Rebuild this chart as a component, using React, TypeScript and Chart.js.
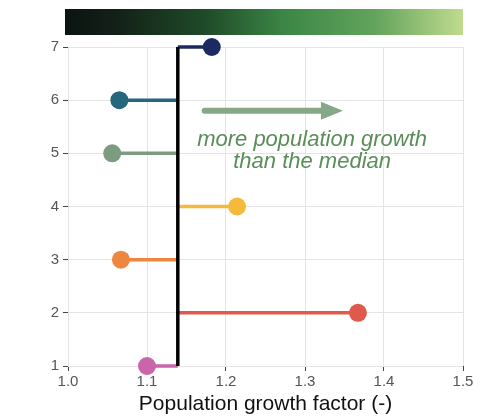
import React, { useEffect, useRef } from "react";
import { Chart, registerables } from "chart.js";

Chart.register(...registerables);

const categories = [1, 2, 3, 4, 5, 6, 7];
const growthValues = [1.1, 1.367, 1.067, 1.214, 1.056, 1.065, 1.182];
const pointColors = ["#c965a8", "#dd5a4d", "#ee8640", "#f5b93c", "#7d9c7f", "#25677d", "#1b2a63"];
const medianValue = 1.139;
const xTicks = [1.0, 1.1, 1.2, 1.3, 1.4, 1.5];
const yTicks = [1, 2, 3, 4, 5, 6, 7];
const annotationLines = ["more population growth", "than the median"];
const xTitle = "Population growth factor (-)";

const FONT = "'Liberation Sans', Arial, sans-serif";

const overlayPlugin = {
  id: "overlay",
  afterDatasetsDraw(chart: any) {
    const { ctx, chartArea, scales } = chart;
    const xs = scales.x;
    const ys = scales.y;
    ctx.save();
    // gradient bar
    const gx0 = chartArea.left - 3;
    const gx1 = chartArea.right;
    const gy0 = chartArea.top - 38;
    const gh = 26;
    const g = ctx.createLinearGradient(gx0, 0, gx1, 0);
    g.addColorStop(0, "#0c1411");
    g.addColorStop(0.12, "#121f17");
    g.addColorStop(0.35, "#1f4a28");
    g.addColorStop(0.55, "#3b8645");
    g.addColorStop(0.78, "#63a45c");
    g.addColorStop(1, "#c0db8e");
    ctx.fillStyle = g;
    ctx.fillRect(gx0, gy0, gx1 - gx0, gh);

    // arrow
    const ax0 = xs.getPixelForValue(1.173);
    const ax1 = xs.getPixelForValue(1.348);
    const ay = ys.getPixelForValue(5.8);
    ctx.strokeStyle = "#86a886";
    ctx.fillStyle = "#86a886";
    ctx.lineWidth = 6;
    ctx.lineCap = "round";
    ctx.beginPath();
    ctx.moveTo(ax0, ay);
    ctx.lineTo(ax1 - 20, ay);
    ctx.stroke();
    ctx.beginPath();
    ctx.moveTo(ax1, ay);
    ctx.lineTo(ax1 - 22, ay - 9);
    ctx.lineTo(ax1 - 22, ay + 9);
    ctx.closePath();
    ctx.fill();

    // text
    ctx.fillStyle = "#5a8d5a";
    ctx.font = `italic 22px ${FONT}`;
    ctx.textAlign = "center";
    ctx.textBaseline = "middle";
    const tx = xs.getPixelForValue(1.309);
    ctx.fillText(annotationLines[0], tx, ys.getPixelForValue(5.25));
    ctx.fillText(annotationLines[1], tx, ys.getPixelForValue(4.84));
    ctx.restore();
  },
};

export default function App() {
  const ref = useRef<HTMLCanvasElement | null>(null);
  useEffect(() => {
    document.body.style.margin = "0";
    const datasets: any[] = [];
    datasets.push({
      data: [
        { x: medianValue, y: 1 },
        { x: medianValue, y: 7 },
      ],
      borderColor: "#000000",
      borderWidth: 3.5,
      showLine: true,
      pointRadius: 0,
      clip: false,
    });
    categories.forEach((c, i) => {
      datasets.push({
        data: [
          { x: medianValue, y: c },
          { x: growthValues[i], y: c },
        ],
        borderColor: pointColors[i],
        backgroundColor: pointColors[i],
        borderWidth: 3.5,
        showLine: true,
        pointRadius: [0, 9],
        pointBorderWidth: 0,
        clip: false,
      });
    });
    const chart = new Chart(ref.current as HTMLCanvasElement, {
      type: "scatter",
      data: { datasets },
      options: {
        animation: false,
        responsive: false,
        layout: { padding: { top: 47, right: 21, left: 0, bottom: 0 } },
        plugins: { legend: { display: false }, tooltip: { enabled: false } },
        scales: {
          x: {
            type: "linear",
            min: 1,
            max: 1.5,
            afterBuildTicks: (s: any) => {
              s.ticks = xTicks.map((v) => ({ value: v }));
            },
            afterFit: (s: any) => {
              s.height = 53;
            },
            grid: { color: "#e4e4e4", lineWidth: 1, tickLength: 5, tickColor: "#444", drawTicks: true },
            border: { display: false },
            ticks: {
              color: "#555",
              font: { family: FONT, size: 15 },
              padding: 2,
              callback: (v: any) => Number(v).toFixed(1),
            },
            title: {
              display: true,
              text: xTitle,
              color: "#111",
              font: { family: FONT, size: 21 },
              padding: { top: 0, bottom: 2 },
            },
          },
          y: {
            type: "linear",
            min: 1,
            max: 7,
            afterBuildTicks: (s: any) => {
              s.ticks = yTicks.map((v) => ({ value: v }));
            },
            afterFit: (s: any) => {
              s.width = 68;
            },
            grid: { color: "#e4e4e4", lineWidth: 1, tickLength: 5, tickColor: "#444", drawTicks: true },
            border: { display: false },
            ticks: {
              color: "#555",
              font: { family: FONT, size: 15 },
              padding: 4,
            },
          },
        },
      },
      plugins: [overlayPlugin],
    });
    return () => chart.destroy();
  }, []);
  return (
    <div style={{ width: 484, height: 419, background: "#fff" }}>
      <canvas ref={ref} width={484} height={419} style={{ display: "block" }} />
    </div>
  );
}
